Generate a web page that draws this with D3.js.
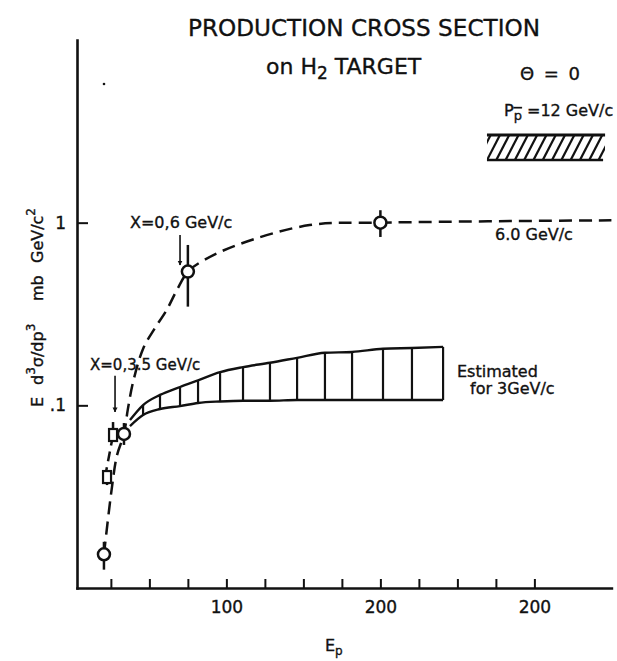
<!DOCTYPE html>
<html>
<head>
<meta charset="utf-8">
<script src="https://cdn.jsdelivr.net/npm/d3@7"></script>
<style>
body { margin: 0; background: #fff; }
text { font-family: "DejaVu Sans", sans-serif; fill: #111; stroke: #111; stroke-width: 0.35px; }
</style>
</head>
<body>
<svg id="chart" width="617" height="661"></svg>
<script>
// axis ticks (the third label really reads "200" in the original)
var xTicks = [25, 50, 75, 100, 125, 150, 175, 200, 225, 250, 275, 300];
var xLabelValues = [100, 200, 300];
var xLabelText = ["100", "200", "200"];
var yTickValues = [0.1, 1];
var yTickText = [".1", "1"];

// measured points, circles
var circleE = [20.5, 33.5, 75, 200];
var circleY = [0.0153, 0.0697, 0.54, 1.0];
var circleLo = [0.0126, 0.0607, 0.347, 0.835];
var circleHi = [0.0179, 0.080, 0.755, 1.17];

// measured points, squares
var squareE = [22.5, 26.4];
var squareY = [0.0405, 0.0688];
var squareLo = [0.0366, 0.063];
var squareHi = [0.0443, 0.081];

// dashed curve (6.0 GeV/c)
var curveE = [20.5, 25.7, 29, 33.5, 36, 39.5, 46, 53, 61, 68, 75.1, 85, 107, 154, 200.4, 350];
var curveY = [0.0153, 0.0357, 0.0534, 0.0697, 0.095, 0.135, 0.205, 0.26, 0.33, 0.43, 0.54, 0.62, 0.755, 0.97, 1.0, 1.03];

// short dashed line between the squares
var sqCurveE = [21.2, 26.4];
var sqCurveY = [0.0405, 0.0688];

// estimated band for 3 GeV/c
var bandE = [37.4, 45.9, 56.9, 69.9, 81.6, 95.9, 110.8, 128.3, 145.9, 164, 181.6, 201.7, 220.5, 240.7];
var bandHi = [0.083, 0.1003, 0.114, 0.126, 0.137, 0.152, 0.162, 0.171, 0.182, 0.194, 0.196, 0.204, 0.206, 0.209];
var bandLo = [0.077, 0.0885, 0.0955, 0.099, 0.103, 0.105, 0.106, 0.106, 0.107, 0.107, 0.107, 0.107, 0.107, 0.107];

// hatched box for P = 12 GeV/c
var p12E = [269.2, 345.9];
var p12Y = [2.2, 3.02];

// arrows pointing at x = 0 points
var arrowE = [69.9, 27.7];
var arrowTop = [0.857, 0.145];
var arrowBottom = [0.586, 0.092];

var svg = d3.select('#chart');

var x = d3.scaleLinear().domain([3, 350]).range([77, 611.4]);
var y = d3.scaleLog().domain([0.01, 10]).range([588, 40]);

svg.append('defs').append('marker')
  .attr('id', 'head')
  .attr('viewBox', '0 0 10 10')
  .attr('refX', 9).attr('refY', 5)
  .attr('markerWidth', 5).attr('markerHeight', 6)
  .attr('markerUnits', 'userSpaceOnUse')
  .attr('orient', 'auto')
  .append('path').attr('d', 'M0,0L10,5L0,10z').attr('fill', '#111');

/* axes */
var xAxis = svg.append('g')
  .attr('transform', 'translate(0,588)')
  .call(d3.axisBottom(x).tickValues(xTicks).tickSizeInner(-9).tickSizeOuter(0).tickPadding(13)
    .tickFormat(function(d) {
      var i = xLabelValues.indexOf(d);
      return i < 0 ? "" : xLabelText[i];
    }));

var yAxis = svg.append('g')
  .attr('transform', 'translate(77,0)')
  .call(d3.axisLeft(y).tickValues(yTickValues).tickSizeInner(-11).tickSizeOuter(0).tickPadding(11)
    .tickFormat(function(d, i) { return yTickText[i]; }));

[xAxis, yAxis].forEach(function(a) {
  a.attr('font-family', null).attr('font-size', null);
  a.select('.domain').attr('stroke', '#111').attr('stroke-width', 2.6).attr('stroke-linecap', 'square');
  a.selectAll('.tick line').attr('stroke', '#111').attr('stroke-width', 2);
  a.selectAll('.tick text').style('font-size', '17px').attr('fill', '#111');
});

/* band */
var band = svg.append('g');
var bandPts = bandE.map(function(e, i) { return [e, bandLo[i], bandHi[i]]; });
var lineHi = d3.line().x(function(d) { return x(d[0]); }).y(function(d) { return y(d[2]); }).curve(d3.curveMonotoneX);
var lineLo = d3.line().x(function(d) { return x(d[0]); }).y(function(d) { return y(d[1]); }).curve(d3.curveMonotoneX);
band.append('path').attr('d', lineHi(bandPts)).attr('fill', 'none').attr('stroke', '#111').attr('stroke-width', 2.4);
band.append('path').attr('d', lineLo(bandPts)).attr('fill', 'none').attr('stroke', '#111').attr('stroke-width', 2.4);
band.selectAll('line').data(bandPts.slice(1)).enter().append('line')
  .attr('x1', function(d) { return x(d[0]); }).attr('x2', function(d) { return x(d[0]); })
  .attr('y1', function(d) { return y(d[1]); }).attr('y2', function(d) { return y(d[2]); })
  .attr('stroke', '#111').attr('stroke-width', 2.2);

/* dashed curves */
var dashLine = d3.line().x(function(d) { return x(d[0]); }).y(function(d) { return y(d[1]); }).curve(d3.curveCatmullRom.alpha(0.5));
svg.append('path')
  .attr('d', dashLine(curveE.map(function(e, i) { return [e, curveY[i]]; })))
  .attr('fill', 'none').attr('stroke', '#111').attr('stroke-width', 2.5).attr('stroke-dasharray', '13,7');
svg.append('path')
  .attr('d', dashLine(sqCurveE.map(function(e, i) { return [e, sqCurveY[i]]; })))
  .attr('fill', 'none').attr('stroke', '#111').attr('stroke-width', 2.5).attr('stroke-dasharray', '10,6');

/* error bars and points */
var pts = svg.append('g');
pts.selectAll('line.ec').data(circleE).enter().append('line')
  .attr('x1', function(d) { return x(d); }).attr('x2', function(d) { return x(d); })
  .attr('y1', function(d, i) { return y(circleLo[i]); }).attr('y2', function(d, i) { return y(circleHi[i]); })
  .attr('stroke', '#111').attr('stroke-width', 2.5);
pts.selectAll('line.es').data(squareE).enter().append('line')
  .attr('x1', function(d) { return x(d); }).attr('x2', function(d) { return x(d); })
  .attr('y1', function(d, i) { return y(squareLo[i]); }).attr('y2', function(d, i) { return y(squareHi[i]); })
  .attr('stroke', '#111').attr('stroke-width', 2.5);
pts.selectAll('rect').data(squareE).enter().append('rect')
  .attr('x', function(d) { return x(d) - 4; }).attr('y', function(d, i) { return y(squareY[i]) - 6; })
  .attr('width', 8).attr('height', 12)
  .attr('fill', '#fff').attr('stroke', '#111').attr('stroke-width', 2.2);
pts.selectAll('circle').data(circleE).enter().append('circle')
  .attr('cx', function(d) { return x(d); }).attr('cy', function(d, i) { return y(circleY[i]); })
  .attr('r', 6).attr('fill', '#fff').attr('stroke', '#111').attr('stroke-width', 2.5);

/* arrows */
svg.selectAll('line.arrow').data(arrowE).enter().append('line')
  .attr('x1', function(d) { return x(d); }).attr('x2', function(d) { return x(d); })
  .attr('y1', function(d, i) { return y(arrowTop[i]); }).attr('y2', function(d, i) { return y(arrowBottom[i]); })
  .attr('stroke', '#111').attr('stroke-width', 1.6).attr('marker-end', 'url(#head)');

/* hatched box, P = 12 GeV/c */
var bx0 = x(p12E[0]), bx1 = x(p12E[1]), by0 = y(p12Y[1]), by1 = y(p12Y[0]);
svg.select('defs').append('clipPath').attr('id', 'boxclip')
  .append('rect').attr('x', bx0).attr('y', by0).attr('width', bx1 - bx0).attr('height', by1 - by0);
var hatch = svg.append('g').attr('clip-path', 'url(#boxclip)');
d3.range(-2, 15).forEach(function(k) {
  hatch.append('line')
    .attr('x1', bx0 + k * 9.3).attr('y1', by1)
    .attr('x2', bx0 + k * 9.3 + 13).attr('y2', by0)
    .attr('stroke', '#111').attr('stroke-width', 2.2);
});
svg.append('line').attr('x1', bx0).attr('x2', bx1).attr('y1', by0).attr('y2', by0).attr('stroke', '#111').attr('stroke-width', 3);
svg.append('line').attr('x1', bx0).attr('x2', bx1 - 2).attr('y1', by1).attr('y2', by1).attr('stroke', '#111').attr('stroke-width', 2.5);

/* stray speck from the scan */
svg.append('circle').attr('cx', 104).attr('cy', 84).attr('r', 1.3).attr('fill', '#111');

/* texts */
svg.append('text').attr('x', 364).attr('y', 36).attr('text-anchor', 'middle')
  .attr('textLength', 352).attr('lengthAdjust', 'spacingAndGlyphs')
  .style('font-size', '23px').text('PRODUCTION CROSS SECTION');

var sub = svg.append('text').attr('x', 266).attr('y', 74).style('font-size', '22px');
sub.append('tspan').text('on  H');
sub.append('tspan').attr('dy', 5).style('font-size', '17px').text('2');
sub.append('tspan').attr('dy', -5).text('  TARGET');

svg.append('text').attr('x', 520).attr('y', 80).style('font-size', '18px')
  .attr('textLength', 60).attr('lengthAdjust', 'spacing').text('\u0398 = 0');

var pp = svg.append('text').attr('x', 504).attr('y', 116).style('font-size', '16px');
pp.append('tspan').text('P');
pp.append('tspan').attr('dy', 4).style('font-size', '13px').style('text-decoration', 'overline').text('p');
pp.append('tspan').attr('dy', -4).text('  =12 GeV/c');

svg.append('text').attr('x', 130).attr('y', 228).style('font-size', '16px').text('X=0,6 GeV/c');
svg.append('text').attr('x', 90).attr('y', 370).style('font-size', '15px').text('X=0,3.5 GeV/c');
svg.append('text').attr('x', 495).attr('y', 240).style('font-size', '16px').text('6.0 GeV/c');
svg.append('text').attr('x', 457).attr('y', 377).style('font-size', '16px').text('Estimated');
svg.append('text').attr('x', 470).attr('y', 394).style('font-size', '16px').text('for 3GeV/c');

var ep = svg.append('text').attr('x', 325).attr('y', 651).style('font-size', '16px');
ep.append('tspan').text('E');
ep.append('tspan').attr('dy', 4).style('font-size', '12px').text('p');

var yl = svg.append('text').attr('transform', 'rotate(-90)').attr('y', 43).style('font-size', '16px');
yl.append('tspan').attr('x', -407).text('E');
yl.append('tspan').attr('x', -385).text('d');
yl.append('tspan').attr('dy', -8).style('font-size', '12px').text('3');
yl.append('tspan').attr('dy', 8).text('\u03c3/dp');
yl.append('tspan').attr('dy', -8).style('font-size', '12px').text('3');
yl.append('tspan').attr('x', -301).attr('dy', 8).text('mb');
yl.append('tspan').attr('x', -263).text('GeV/c');
yl.append('tspan').attr('dy', -8).style('font-size', '12px').text('2');
</script>
</body>
</html>
